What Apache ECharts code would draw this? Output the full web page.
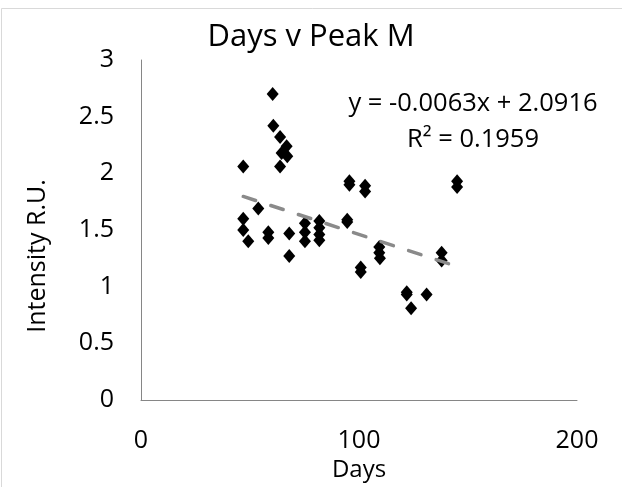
<!DOCTYPE html>
<html>
<head>
<meta charset="utf-8">
<script src="https://cdn.jsdelivr.net/npm/echarts@6/dist/echarts.min.js"></script>
<style>
html,body{margin:0;padding:0;background:#fff;}
#chart{width:622px;height:487px;}
</style>
</head>
<body>
<div id="chart"></div>
<script>
// ---- data ----
const days = [46.9, 46.9, 46.9, 49.2, 53.8, 58.4, 58.4, 60.4, 60.7, 63.8, 66.8, 64.5, 67.1, 63.8,
  68.0, 68.0, 75.2, 75.2, 75.2, 81.8, 81.8, 81.8, 81.8, 95.6, 95.6, 102.8, 102.8, 94.6, 94.6,
  109.3, 109.3, 109.6, 100.8, 100.8, 121.9, 121.9, 123.9, 131.0, 137.9, 137.9, 145.0, 145.0];
const intensity = [2.06, 1.60, 1.50, 1.40, 1.69, 1.48, 1.43, 2.70, 2.42, 2.32, 2.24, 2.18, 2.15, 2.06,
  1.47, 1.27, 1.56, 1.48, 1.40, 1.58, 1.52, 1.46, 1.41, 1.93, 1.90, 1.89, 1.84, 1.59, 1.57,
  1.35, 1.30, 1.25, 1.17, 1.13, 0.95, 0.93, 0.81, 0.93, 1.30, 1.23, 1.93, 1.88];
const trendSlope = -0.0063;
const trendIntercept = 2.0916;
const rSquared = 0.1959;
const xTicks = [0, 100, 200];
const yTicks = [0, 0.5, 1, 1.5, 2, 2.5, 3];
const titleText = 'Days v Peak M';
const xName = 'Days';
const yName = 'Intensity R.U.';

const points = days.map((d, i) => [d, intensity[i]]);
const xMin = Math.min(...days), xMax = Math.max(...days);
const trend = [[xMin, trendSlope * xMin + trendIntercept], [xMax, trendSlope * xMax + trendIntercept]];
const eqText = 'y = ' + trendSlope.toFixed(4) + 'x + ' + trendIntercept.toFixed(4);
const r2Text = 'R\u00B2 = ' + rSquared.toFixed(4);

const FONT = '"Open Sans", sans-serif';
const chart = echarts.init(document.getElementById('chart'), null, {renderer: 'canvas'});
chart.setOption({
  animation: false,
  backgroundColor: '#fff',
  grid: {left: 141, right: 45, top: 60, bottom: 85},
  xAxis: {
    type: 'value', min: xTicks[0], max: xTicks[xTicks.length - 1], interval: xTicks[1] - xTicks[0],
    name: xName, nameLocation: 'middle', nameGap: 58,
    nameTextStyle: {fontFamily: FONT, fontSize: 24, color: '#000'},
    axisLine: {show: true, lineStyle: {color: '#868686', width: 1}},
    axisTick: {show: false}, splitLine: {show: false},
    axisLabel: {fontFamily: FONT, fontSize: 25, color: '#000', margin: 28}
  },
  yAxis: {
    type: 'value', min: yTicks[0], max: yTicks[yTicks.length - 1], interval: yTicks[1] - yTicks[0],
    axisLine: {show: true, lineStyle: {color: '#868686', width: 1}},
    axisTick: {show: false}, splitLine: {show: false},
    axisLabel: {fontFamily: FONT, fontSize: 25, color: '#000', margin: 27}
  },
  series: [
    {type: 'scatter', data: points, symbol: 'diamond', symbolSize: [12, 14],
     itemStyle: {color: '#000', opacity: 1}, z: 2},
    {type: 'line', data: trend, symbol: 'none', z: 3,
     lineStyle: {color: '#8a8a8a', width: 3.5, type: [13, 16], cap: 'round'}}
  ],
  graphic: [
    {type: 'rect', shape: {x: 1.5, y: 8.5, width: 700, height: 600}, silent: true,
     style: {fill: 'none', stroke: '#d9d9d9', lineWidth: 1}, z: -1},
    {type: 'text', style: {text: titleText, x: 311, y: 37, align: 'center', verticalAlign: 'middle',
     font: '31px ' + FONT, fill: '#000'}},
    {type: 'text', x: 38, y: 256, rotation: Math.PI / 2,
     style: {text: yName, x: 0, y: 0, align: 'center', verticalAlign: 'middle',
     font: '25px ' + FONT, fill: '#000'}},
    {type: 'text', style: {text: eqText, x: 473, y: 104, align: 'center', verticalAlign: 'middle',
     font: '25.5px ' + FONT, fill: '#000'}},
    {type: 'text', style: {text: r2Text, x: 473, y: 140, align: 'center', verticalAlign: 'middle',
     font: '25.5px ' + FONT, fill: '#000'}}
  ]
});
</script>
</body>
</html>
